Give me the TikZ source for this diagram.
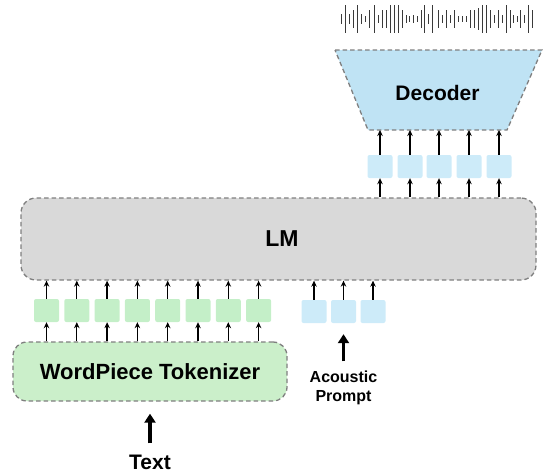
\documentclass[tikz,border=0pt]{standalone}
\usepackage{fontspec}
\setmainfont{Liberation Sans}
\usetikzlibrary{arrows.meta}
\definecolor{lmgray}{HTML}{D9D9D9}
\definecolor{bordergray}{HTML}{7F7F7F}
\definecolor{tokgreen}{HTML}{C4EFC8}
\definecolor{boxgreen}{HTML}{CBEFCA}
\definecolor{tokblue}{HTML}{CDEBF9}
\definecolor{decblue}{HTML}{BFE3F4}
\definecolor{wave}{HTML}{3A3A3A}
\tikzset{
  dashbox/.style={draw=bordergray, dash pattern=on 4.5pt off 3pt, line width=1.3pt},
  tokg/.style={fill=tokgreen, rounded corners=2pt, minimum width=25pt, minimum height=23pt, inner sep=0pt},
  tokb/.style={fill=tokblue, rounded corners=2pt, minimum width=25pt, minimum height=23pt, inner sep=0pt},
  arr/.style={-{Stealth[length=6pt,width=5.5pt]}, line width=1.3pt},
  bigarr/.style={-{Triangle[length=9pt,width=11pt]}, line width=3.5pt},
  lbl/.style={font=\bfseries\fontsize{21}{25}\selectfont, inner sep=0pt},
}
\begin{document}
\begin{tikzpicture}[x=1pt,y=-1pt]
\useasboundingbox (0,0) rectangle (543,475);
% waveform
\foreach \xx/\hh in {341/10,345/28,349/10,353/18,357/28,361/10,365/6,369/18,374/28,378/8,382/18,386/18,390/28,394/28,398/28,402/18,406/8,409/6,413/8,417/6,421/18,424/28,428/10,432/28,438/18,442/8,446/18,450/8,454/18,458/6,462/6,466/6,470/18,474/18,478/22,482/28,486/28,490/18,494/8,498/18,502/8,506/28,510/18,513/8,517/6,520/18,524/8,528/28,532/18}
  \draw[wave, line width=0.9pt] (\xx,19-\hh/2) -- (\xx,19+\hh/2);
% decoder
\coordinate (dectl) at (335,50);
\coordinate (dectr) at (542,50);
\coordinate (decbr) at (507,130);
\coordinate (decbl) at (368,130);
\draw[dashbox, fill=decblue] (dectl) -- (dectr) -- (decbr) -- (decbl) -- cycle;
\node[lbl] (dec) at (437.5,92.5) {Decoder};
\coordinate (decbot) at (437,130);
% LM
\node[dashbox, fill=lmgray, rounded corners=15pt, minimum width=515pt, minimum height=82pt] (lm) at (278.5,239) {};
\node[lbl, font=\bfseries\fontsize{23}{27}\selectfont] (lmt) at (282,239) {LM};
% tokenizer
\node[dashbox, fill=boxgreen, rounded corners=14pt, minimum width=274pt, minimum height=59pt] (tok) at (150,371.5) {};
\node[lbl, font=\bfseries\fontsize{22}{26}\selectfont] (tokt) at (150,372) {WordPiece Tokenizer};
% green tokens
\foreach \i in {0,...,7} {
  \node[tokg] (g\i) at (46.5+30.3*\i,310.5) {};
  \draw[arr] (g\i.north) -- (g\i.north |- lm.south);
  \draw[arr] (g\i.south |- tok.north) -- (g\i.south);
}
% acoustic tokens
\foreach \xx [count=\i] in {314,343.5,373} {
  \node[tokb] (a\i) at (\xx,311.5) {};
  \draw[arr] (a\i.north) -- (a\i.north |- lm.south);
}
% decoder input tokens
\foreach \xx [count=\i] in {380,410,439,469,499} {
  \node[tokb] (d\i) at (\xx,166.5) {};
  \draw[arr] (d\i.north) -- (d\i.north |- decbot);
  \draw[arr] (d\i.south |- lm.north) -- (d\i.south);
}
% inputs
\node[lbl] (txt) at (150,462) {Text};
\draw[bigarr, shorten <=11pt, shorten >=12pt] (txt.north) -- (tok.south -| txt.north);
\node[lbl, font=\bfseries\fontsize{16}{19}\selectfont, align=center] (ap) at (343.5,387.5) {Acoustic\\Prompt};
\draw[bigarr, shorten <=9pt, shorten >=11pt] (ap.north) -- (a2.south);
\end{tikzpicture}
\end{document}
